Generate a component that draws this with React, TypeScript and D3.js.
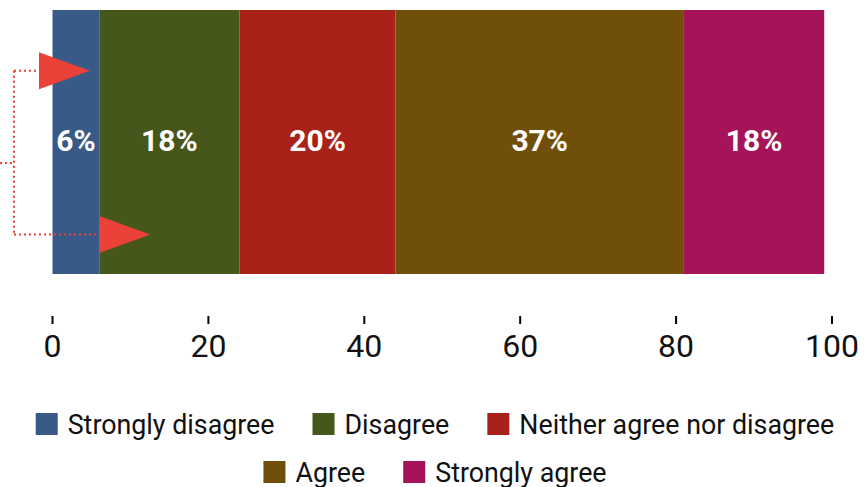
import React, { useMemo } from "react";
import * as d3 from "d3";

// Survey response shares (percent)
const categories = [
  "Strongly disagree",
  "Disagree",
  "Neither agree nor disagree",
  "Agree",
  "Strongly agree",
];
const shares = [6, 18, 20, 37, 18];
const palette = ["#375A87", "#45571B", "#A9221A", "#6F4F09", "#A51459"];
const axisTicks = [0, 20, 40, 60, 80, 100];

const W = 865;
const H = 487;
const FONT = "Roboto, 'Noto Sans', sans-serif";

function measure(text: string, font: string): number {
  const c = document.createElement("canvas").getContext("2d");
  if (!c) return text.length * 12;
  c.font = font;
  return c.measureText(text).width;
}

export default function App() {
  const x = d3.scaleLinear().domain([0, 100]).range([52.5, 832]);
  const y = d3.scaleBand().domain(["row"]).range([10, 274]).padding(0);

  const stack = useMemo(() => {
    let acc = 0;
    return shares.map((v, i) => {
      const s = { start: acc, end: acc + v, value: v, color: palette[i], name: categories[i] };
      acc += v;
      return s;
    });
  }, []);

  const bandY = y("row") as number;
  const bandH = y.bandwidth();

  // Legend flow layout
  const legendSize = 26.8;
  const legendFont = `${legendSize}px ${FONT}`;
  const sw = 22;
  const swGap = 10;
  const itemGap = 38;
  const items = categories.map((c, i) => ({
    name: c,
    color: palette[i],
    w: sw + swGap + measure(c, legendFont),
  }));
  const rows: typeof items[] = [];
  let cur: typeof items = [];
  let curW = 0;
  items.forEach((it) => {
    const add = (cur.length ? itemGap : 0) + it.w;
    if (cur.length && curW + add > W - 20) {
      rows.push(cur);
      cur = [it];
      curW = it.w;
    } else {
      cur.push(it);
      curW += add;
    }
  });
  if (cur.length) rows.push(cur);
  const legendCenter = 435;
  const rowTop = [413, 461];

  // Annotation geometry (elbow connector with two arrowheads)
  const arrowRed = "#EA4138";
  const yTop = bandY + bandH * 0.23;
  const yBot = bandY + bandH * 0.85;
  const yMid = bandY + bandH * 0.58;
  const elbowX = 14;
  const triLen = 51;
  const triHalf = 18.5;
  const a1Left = 39;
  const a2Left = x(stack[0].end);

  return (
    <div style={{ position: "fixed", left: 0, top: 0 }}>
      <svg width={W} height={H} style={{ display: "block", background: "#fff" }}>
        {/* stacked bar */}
        <g>
          {stack.map((s) => (
            <rect
              key={s.name}
              x={x(s.start)}
              y={bandY}
              width={x(s.end) - x(s.start)}
              height={bandH}
              fill={s.color}
            />
          ))}
          {stack.map((s) => (
            <text
              key={s.name + "-lbl"}
              x={(x(s.start) + x(s.end)) / 2}
              y={bandY + bandH / 2 + 9}
              textAnchor="middle"
              fill="#fff"
              fontFamily={FONT}
              fontWeight={700}
              fontSize={30}
            >
              {`${s.value}%`}
            </text>
          ))}
        </g>

        {/* annotation */}
        <g>
          <path
            d={`M0,${yMid}H${elbowX}M${elbowX},${yTop}V${yBot}M${elbowX},${yTop}H${a1Left}M${elbowX},${yBot}H${a2Left}`}
            fill="none"
            stroke={arrowRed}
            strokeWidth={2}
            strokeDasharray="2,3"
          />
          <path
            d={`M${a1Left},${yTop - triHalf}L${a1Left + triLen},${yTop}L${a1Left},${yTop + triHalf}Z`}
            fill={arrowRed}
          />
          <path
            d={`M${a2Left},${yBot - triHalf}L${a2Left + triLen},${yBot}L${a2Left},${yBot + triHalf}Z`}
            fill={arrowRed}
          />
        </g>

        {/* x axis */}
        <g>
          {axisTicks.map((t) => (
            <g key={t} transform={`translate(${x(t)},0)`}>
              <line y1={316} y2={324} stroke="#000" strokeWidth={2} />
              <text
                y={357}
                textAnchor="middle"
                fontFamily={FONT}
                fontSize={32}
                fill="#111"
              >
                {t}
              </text>
            </g>
          ))}
        </g>

        {/* legend */}
        <g>
          {rows.map((row, ri) => {
            const total = row.reduce((a, it) => a + it.w, 0) + itemGap * (row.length - 1);
            let cx = legendCenter - total / 2;
            return row.map((it) => {
              const gx = cx;
              cx += it.w + itemGap;
              return (
                <g key={it.name} transform={`translate(${gx},${rowTop[ri]})`}>
                  <rect width={sw} height={sw} fill={it.color} />
                  <text
                    x={sw + swGap}
                    y={20.5}
                    fontFamily={FONT}
                    fontSize={legendSize}
                    fill="#111"
                  >
                    {it.name}
                  </text>
                </g>
              );
            });
          })}
        </g>
      </svg>
    </div>
  );
}
